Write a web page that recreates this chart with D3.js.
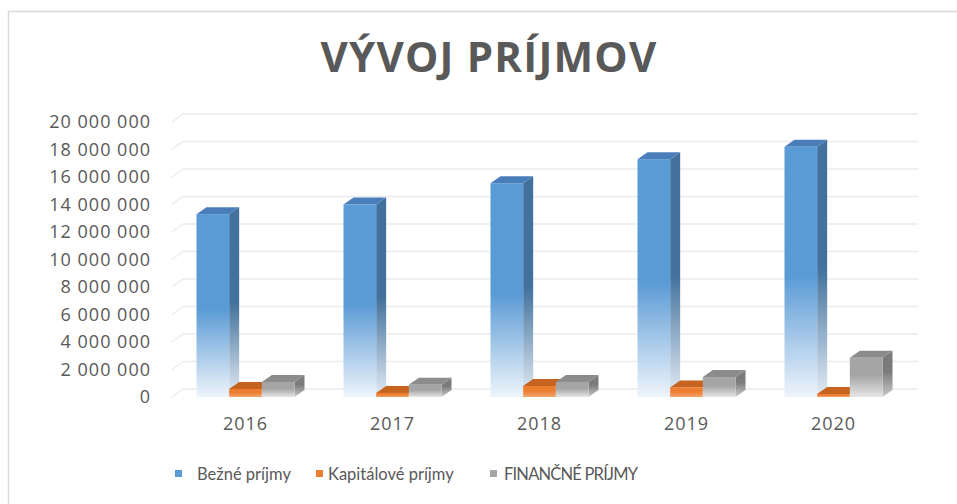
<!DOCTYPE html>
<html>
<head>
<meta charset="utf-8">
<script src="https://cdn.jsdelivr.net/npm/d3@7"></script>
<style>
  body { margin: 0; background: #fff; }
  svg { display: block; font-family: Lato, "Open Sans", sans-serif; }
</style>
</head>
<body>
<svg id="chart" width="957" height="504"></svg>
<script>
// Data
const years = ['2016', '2017', '2018', '2019', '2020'];
const seriesNames = ['Bežné príjmy', 'Kapitálové príjmy', 'FINANČNÉ PRÍJMY'];
const bezne = [13300000, 14000000, 15550000, 17300000, 18200000];
const kapitalove = [580000, 300000, 800000, 700000, 220000];
const financne = [1100000, 900000, 1100000, 1450000, 2850000];
const yTicks = [0, 2000000, 4000000, 6000000, 8000000, 10000000, 12000000, 14000000, 16000000, 18000000, 20000000];

const series = [bezne, kapitalove, financne];

// colours: front, side, top
const palette = [
  { front: '#5B9BD5', side: '#41719C', top: '#4A7EBB', fade: '#EEF4FB' },
  { front: '#ED7D31', side: '#B65F24', top: '#C5631F', fade: '#F4A66E' },
  { front: '#A5A5A5', side: '#7B7B7B', top: '#8C8C8C', fade: '#E6E6E6' }
];

const svg = d3.select('#chart');
const defs = svg.append('defs');

// chart border (only left/top visible inside the window)
svg.append('rect')
  .attr('x', 8.5).attr('y', 11.5)
  .attr('width', 1000).attr('height', 600)
  .attr('fill', 'none')
  .attr('stroke', '#d9d9d9')
  .attr('stroke-width', 1.5);

// 3D depth of the floor and of the bars
const floorDx = 11, floorDy = -8;
const barDx = 10, barDy = -7;

const x = d3.scaleBand().domain(years).range([172, 907]);
const inner = d3.scaleBand().domain(d3.range(series.length)).range([-49, 49]);
const y = d3.scaleLinear().domain([0, 20000000]).range([397, 122]);

const fmt = d3.formatLocale({ decimal: ',', thousands: '\u00a0', grouping: [3], currency: ['', ''] }).format(',d');

// gradients
palette.forEach((p, i) => {
  const gf = defs.append('linearGradient')
    .attr('id', 'front' + i).attr('x1', 0).attr('y1', 0).attr('x2', 0).attr('y2', 1);
  gf.append('stop').attr('offset', i === 0 ? 0.52 : 0.45).attr('stop-color', p.front);
  gf.append('stop').attr('offset', 1).attr('stop-color', p.fade);
  const gs = defs.append('linearGradient')
    .attr('id', 'side' + i).attr('x1', 0).attr('y1', 0).attr('x2', 0).attr('y2', 1);
  gs.append('stop').attr('offset', i === 0 ? 0.5 : 0.45).attr('stop-color', p.side);
  gs.append('stop').attr('offset', 1).attr('stop-color', i === 0 ? '#E4ECF5' : d3.interpolateRgb(p.side, '#fff')(0.6));
});

// title
svg.append('text')
  .attr('x', 489).attr('y', 72)
  .attr('text-anchor', 'middle')
  .attr('font-family', '"Open Sans", sans-serif')
  .attr('font-weight', 'bold')
  .attr('font-size', 42)
  .attr('letter-spacing', 1.2)
  .attr('fill', '#595959')
  .text('VÝVOJ PRÍJMOV');

// gridlines with slanted floor part
const grid = svg.append('g').attr('class', 'grid');
yTicks.forEach(t => {
  const yy = y(t);
  grid.append('path')
    .attr('d', `M172,${yy} L${172 + floorDx},${yy + floorDy} L918,${yy + floorDy}`)
    .attr('fill', 'none')
    .attr('stroke', '#ebebeb')
    .attr('stroke-width', 1.3);
});

// y axis labels
const yAxis = d3.axisLeft(y).tickValues(yTicks).tickFormat(fmt).tickSize(0).tickPadding(0);
svg.append('g')
  .attr('transform', 'translate(151,0)')
  .call(yAxis)
  .call(g => g.select('.domain').remove())
  .selectAll('text')
  .attr('font-family', '"Open Sans", sans-serif')
  .attr('font-size', 18)
  .attr('letter-spacing', 1)
  .attr('fill', '#595959');

// x axis labels
const xAxis = d3.axisBottom(x).tickSize(0).tickPadding(0);
svg.append('g')
  .attr('transform', 'translate(0,417)')
  .call(xAxis)
  .call(g => g.select('.domain').remove())
  .selectAll('text')
  .attr('font-family', '"Open Sans", sans-serif')
  .attr('font-size', 18)
  .attr('letter-spacing', 1)
  .attr('fill', '#595959');

// bars
const bars = svg.append('g').attr('class', 'bars');
years.forEach((yr, ci) => {
  const cx = x(yr) + x.bandwidth() / 2;
  series.forEach((vals, si) => {
    const x0 = cx + inner(si);
    const x1 = x0 + inner.bandwidth();
    const yTop = y(vals[ci]);
    const yBot = y(0);
    const p = palette[si];
    const g = bars.append('g');
    // side face
    g.append('path')
      .attr('d', `M${x1},${yTop} L${x1 + barDx},${yTop + barDy} L${x1 + barDx},${yBot + barDy} L${x1},${yBot} Z`)
      .attr('fill', `url(#side${si})`);
    // top face
    g.append('path')
      .attr('d', `M${x0},${yTop} L${x0 + barDx},${yTop + barDy} L${x1 + barDx},${yTop + barDy} L${x1},${yTop} Z`)
      .attr('fill', p.top);
    // front face
    g.append('rect')
      .attr('x', x0).attr('y', yTop)
      .attr('width', x1 - x0).attr('height', yBot - yTop)
      .attr('fill', `url(#front${si})`);
  });
});

// legend
const legendPos = [175, 316, 490];
const legendGap = [22, 12, 14];
const legendSpacing = [0, 0, -0.8];
const legend = svg.append('g').attr('class', 'legend');
seriesNames.forEach((name, i) => {
  const lg = legend.append('g').attr('transform', `translate(${legendPos[i]},474)`);
  lg.append('rect')
    .attr('x', 0).attr('y', -4)
    .attr('width', 7).attr('height', 7)
    .attr('fill', palette[i].front);
  lg.append('text')
    .attr('x', legendGap[i]).attr('y', 0)
    .attr('dy', '0.35em')
    .attr('font-family', 'Lato, sans-serif')
    .attr('font-size', 16.5)
    .attr('letter-spacing', legendSpacing[i])
    .attr('fill', '#595959')
    .text(name);
});
</script>
</body>
</html>
